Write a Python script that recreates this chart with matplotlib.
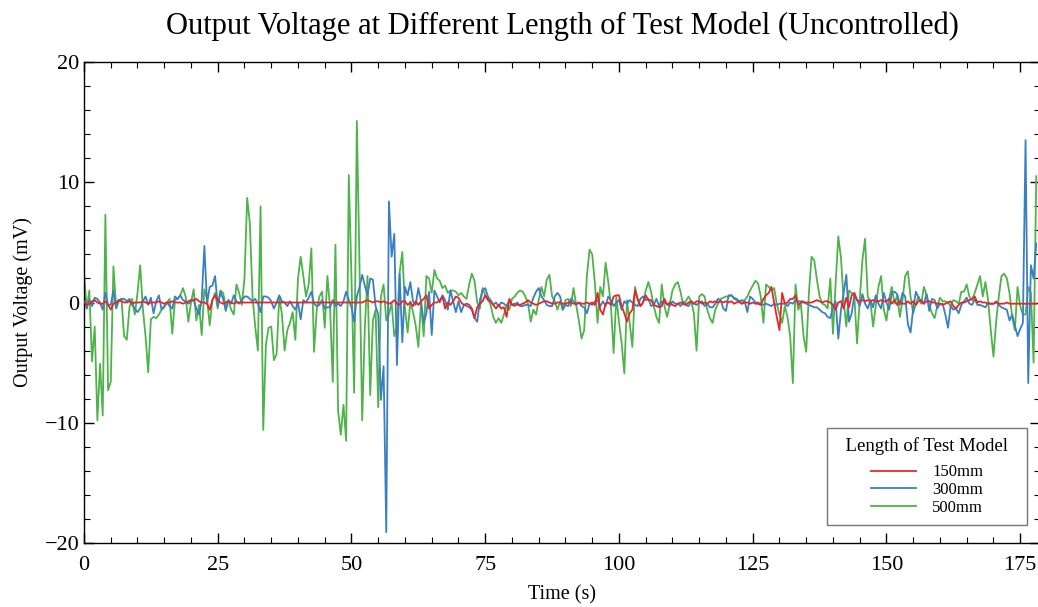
import numpy as np
import matplotlib
matplotlib.use("Agg")
import matplotlib.pyplot as plt
from matplotlib.ticker import MultipleLocator

plt.rcParams['font.family'] = ['Liberation Serif', 'DejaVu Serif']
plt.rcParams['mathtext.fontset'] = 'stix'

# sampled every 0.5 s, starting at t = 0
dt = 0.5

v_150mm = [
    0.1, -0.2, -0.1, 0.1, 0.2, 0.0, -0.1, -0.1, 0.1, -0.2, -0.6, -0.1, 0.0, 0.2, 0.1, 0.0, 0.0, 0.1, -0.1, 0.0,
    0.0, 0.0, 0.1, 0.0, -0.1, 0.0, 0.0, 0.0, 0.1, 0.0, -0.1, 0.0, 0.0, 0.1, 0.0, 0.0, 0.0, -0.1, 0.0, 0.1,
    0.2, 0.2, 0.3, 0.1, 0.0, 0.0, -0.1, -0.6, 0.2, 0.6, 0.2, 0.0, -0.1, 0.0, 0.1, 0.0, -0.1, 0.0, 0.0, 0.0,
    0.0, 0.0, 0.0, 0.0, 0.0, 0.0, 0.0, 0.0, 0.0, 0.0, 0.0, 0.0, 0.0, 0.0, 0.0, 0.0, 0.0, 0.0, 0.0, 0.0,
    0.0, 0.0, 0.0, 0.0, 0.0, 0.0, 0.0, 0.0, 0.0, 0.0, 0.0, 0.0, 0.0, 0.0, 0.0, 0.0, 0.0, 0.0, 0.0, 0.0,
    0.0, 0.0, 0.0, 0.0, 0.0, 0.1, 0.2, 0.1, 0.0, 0.1, 0.1, 0.0, 0.1, 0.0, -0.1, 0.0, 0.2, -0.1, -0.2, 0.1,
    0.1, -0.2, 0.0, -0.3, 0.1, -0.2, 0.1, 0.3, 0.6, -0.5, -0.2, 0.0, 0.0, 0.2, 0.5, -0.5, 0.0, -0.2, 0.1, 0.5,
    0.4, 0.0, -0.2, -0.1, -0.2, -0.5, -1.3, -0.4, -0.1, 0.1, 0.6, 0.2, 0.1, -0.2, -0.5, -0.2, -0.5, -0.4, -1.2, 0.3,
    -0.2, -0.1, -0.2, -0.2, -0.1, 0.0, 0.2, 0.0, -0.1, -0.2, -0.1, 0.0, 0.1, 0.1, 0.0, -0.1, -0.1, 0.0, 0.0, -0.1,
    -0.1, 0.0, 0.0, -0.1, -0.1, 0.0, -0.1, -0.1, 0.0, -0.1, 0.0, -0.2, 0.8, -0.6, -1.0, -0.1, 0.0, -0.2, 0.5, 0.6,
    0.6, -0.3, -0.9, -1.6, -0.9, -0.6, 1.0, 0.3, -0.3, 0.0, 0.6, 0.2, 0.2, -0.2, -0.3, -0.4, -0.3, 0.3, -0.2, 0.0,
    -0.2, -0.3, -0.1, 0.0, -0.1, -0.2, 0.0, 0.1, -0.1, 0.1, 0.1, -0.1, 0.0, -0.1, 0.1, 0.0, 0.1, 0.0, 0.1, 0.0,
    0.1, 0.0, 0.1, -0.1, 0.0, 0.1, -0.1, 0.0, 0.0, -0.1, 0.0, -0.1, -0.1, -0.2, 0.3, 0.6, 0.8, 1.3, 0.0, -1.2,
    -2.3, 0.8, -0.1, 0.0, 0.3, 0.3, 0.6, -0.2, 0.0, 0.0, 0.0, 0.0, 0.0, 0.1, 0.2, 0.1, 0.0, 0.1, 0.1, 0.0,
    -0.2, -0.6, 0.0, 0.1, -0.5, 0.4, -0.4, 0.6, 0.8, 0.2, 0.1, 0.2, 0.1, 0.2, 0.1, 0.2, 0.1, 0.1, 0.2, 0.1,
    0.1, 0.3, -0.1, 0.2, -0.2, 0.1, -0.1, -0.1, 0.1, -0.1, 0.1, -0.2, 0.1, 0.2, -0.1, 0.1, 0.1, 0.0, 0.0, -0.1,
    -0.1, -0.2, -0.1, 0.0, 0.1, -0.3, -0.5, -0.2, 0.0, 0.0, 0.1, 0.2, 0.3, 0.5, 0.0, 0.1, 0.0, 0.0, -0.1, -0.1,
    -0.1, 0.0, -0.1, -0.1, -0.1, 0.0, -0.1, -0.1, -0.1, -0.1, -0.1, -0.1, -0.1, -0.1, -0.1, -0.1, -0.1,
]

v_300mm = [
    0.6, -0.5, 0.2, -0.3, 0.4, 0.3, 0.0, -0.6, 0.8, -0.2, -0.2, 1.0, -0.5, 0.1, 0.3, 0.3, 0.1, 0.3, -0.2, -0.5,
    -0.8, -0.5, 0.1, 0.5, -0.2, 0.4, -0.9, 0.1, 0.6, -0.6, -0.3, 0.0, -0.3, -0.5, 0.5, 0.3, 0.6, 0.2, 0.1, -0.1,
    0.1, 0.2, -0.5, -1.0, 0.2, 4.7, -0.1, 1.3, 1.4, 2.2, -0.3, 0.9, 0.3, -0.7, 0.2, -0.1, 0.6, 0.1, -0.1, 0.2,
    0.5, 0.5, 0.3, 0.1, 0.3, -0.1, -0.8, 0.5, 0.5, 0.4, 0.1, -0.5, 0.0, 0.6, 0.1, 0.0, -0.3, 0.1, -0.3, -0.6,
    0.0, -1.4, 0.2, 0.0, 0.4, 0.9, -0.1, -0.3, -0.2, 0.2, -0.5, -0.4, -0.4, 0.2, -0.3, -0.1, -0.3, 0.1, 0.9, 0.2,
    -0.4, -1.6, 0.5, 1.3, 2.3, 1.4, 0.6, 2.0, 1.9, -0.3, -1.0, -8.1, -5.3, -19.1, 8.4, 3.8, 5.7, -5.2, 2.4, -3.3,
    1.3, 0.6, 1.7, 0.1, -0.2, 1.2, 0.1, -1.7, -0.9, 0.9, -2.7, 1.0, 0.5, 0.0, 0.6, 0.2, -0.6, 1.0, 0.1, -0.8,
    0.1, -0.8, -0.2, -0.3, -0.4, -0.6, -1.3, -1.6, 0.2, 1.0, 1.2, 0.5, 0.2, -0.2, 0.0, -0.3, 0.0, -0.1, -0.3, 0.2,
    -0.2, -0.3, 0.0, -0.3, -0.3, -0.2, -0.2, -0.3, 0.4, 0.9, 1.2, 0.5, 0.2, -0.2, -0.3, -0.3, 0.5, 0.8, 0.5, -0.6,
    -0.2, -0.3, 0.3, 0.1, -0.2, 0.0, -0.3, -0.4, -0.9, -0.1, -0.2, 0.1, 0.2, -0.3, 0.1, -0.3, 0.5, 0.2, -0.3, 0.0,
    0.2, -0.6, 0.1, -0.1, 0.2, 0.0, -0.2, -0.3, 0.3, 0.5, 0.2, 0.3, -0.3, -0.2, 0.3, -0.3, 0.1, 0.0, -0.1, -0.3,
    0.1, -0.1, -0.1, -0.3, 0.1, -0.2, -0.3, 0.1, -0.1, -0.2, 0.0, 0.1, -0.3, -0.1, -0.4, -0.4, -0.1, 0.3, 0.2, -0.5,
    -0.7, 0.6, 0.6, 0.4, 0.3, 0.1, 0.2, 0.1, -0.8, 0.5, 0.3, 0.0, 0.0, -0.1, -0.2, -0.1, -0.2, -0.3, -0.1, -0.2,
    -0.1, -0.1, -0.1, -0.3, 0.0, -0.1, 0.2, 0.1, 0.1, 0.1, -0.1, -0.2, -0.3, -0.4, -0.4, -0.6, -0.8, -0.9, -1.2, -1.3,
    -0.4, 0.1, -3.0, -0.6, 0.8, 2.3, -1.6, -0.9, 0.6, 0.2, -0.3, 0.7, -0.1, -0.5, 0.2, -0.4, 0.6, -0.1, -0.5, 0.8,
    0.0, -0.6, 0.8, 0.9, 0.7, -0.2, 0.8, 0.5, -1.8, -2.5, -0.5, 0.9, 0.4, 0.0, -0.1, 0.7, -0.7, 0.3, 0.2, -0.5,
    -0.1, -0.1, -1.0, -2.1, -0.3, -0.6, -0.5, -0.9, -0.2, 0.1, 0.4, -0.1, -0.2, 0.3, -0.2, -0.2, -0.3, -0.4, 0.0, -0.1,
    -0.1, 0.1, -0.2, -0.4, -0.5, -0.6, -1.5, -1.0, -1.9, -2.8, -2.2, -1.7, 13.5, -6.7, 3.1, 2.0, 4.9,
]

v_500mm = [
    2.5, -0.5, 1.0, -4.9, -2.0, -9.8, -5.1, -9.4, 7.3, -7.3, -6.6, 3.0, -0.3, 0.2, 0.3, -2.8, -3.1, -0.4, 0.3, -1.0,
    0.8, 3.1, -0.5, -2.8, -5.8, -1.4, -1.2, -1.3, -1.0, -0.6, -0.4, 0.0, 0.3, -2.6, 0.2, 0.3, 0.6, 1.2, 0.5, -1.6,
    0.0, 1.1, -1.5, -0.2, -2.7, 1.1, 0.3, -1.9, 0.2, 0.8, -0.5, 1.0, 0.8, -0.3, 0.2, -0.6, -1.0, 1.5, 0.8, -0.2,
    2.0, 8.7, 6.6, 0.5, -2.0, -4.0, 8.0, -10.6, -3.5, -2.1, -2.0, -4.8, -4.3, 0.5, -1.0, -4.0, -2.3, -1.7, -0.8, -3.1,
    2.0, 3.8, 2.2, 0.5, 1.5, 4.5, -4.1, -0.6, 0.5, 0.9, -2.1, 2.2, -0.5, -6.6, 4.8, -9.0, -11.0, -8.5, -11.5, 10.6,
    2.0, -7.5, 15.1, 3.0, -9.8, -2.0, 2.2, -7.7, -1.5, -0.6, -8.7, 0.5, 1.5, -1.5, -1.0, 0.0, -2.8, -2.0, 2.5, 4.2,
    -0.5, -2.5, 0.1, -0.8, -1.9, -3.7, 0.0, -2.8, 2.2, 2.0, 0.8, 2.7, 2.0, 1.8, 1.2, 1.4, 0.8, 1.0, 1.0, 0.9,
    0.6, 0.8, 0.5, 0.3, 1.5, 2.4, 1.8, 0.0, -0.5, 1.2, 0.6, 0.3, -0.2, -1.2, -1.7, -1.3, -1.7, -1.0, -0.3, -0.6,
    0.3, 0.5, 0.8, 1.0, 0.9, 0.5, -0.1, -1.6, -0.6, -1.0, 0.2, 1.3, 0.5, 1.9, 2.3, 0.5, 0.1, -0.6, 0.1, -0.6,
    0.2, 0.3, -0.3, 1.2, -0.2, -1.5, -3.0, -2.3, 2.2, 4.4, 4.0, 1.6, -1.7, 1.3, 0.5, 3.3, 1.7, -0.3, -4.2, 0.5,
    -1.6, -3.4, -5.9, 0.2, -1.7, -3.7, 1.3, 0.2, -0.3, 0.0, 1.0, 1.7, 0.9, -0.3, -1.2, -1.7, 1.5, -0.3, -1.2, -0.1,
    1.0, 1.5, 1.7, 0.9, -0.2, 0.1, 0.5, 0.1, -0.9, -4.0, 0.5, 0.7, 0.5, -0.6, -1.3, -1.7, -0.6, -0.1, 0.3, 0.4,
    0.5, 0.5, 0.6, 0.3, 0.2, 0.0, -0.1, 0.2, 0.5, 1.0, 1.4, 1.8, 1.6, 0.5, -1.7, 1.5, 1.3, 1.0, 1.2, -0.1,
    -1.0, -1.7, -0.3, -1.2, -2.8, -6.7, 1.5, -0.6, -0.1, -2.8, -4.1, 0.8, 3.8, 3.5, 1.9, 0.5, -0.1, -0.2, -0.5, 2.0,
    -2.6, 1.6, 5.5, 3.7, 0.1, -2.0, 1.0, 0.8, 0.5, -3.4, 0.2, 3.5, 5.3, 0.5, 0.1, -2.0, -0.3, 1.3, 2.2, -0.6,
    -1.5, 0.3, 1.3, -0.1, 0.6, -1.2, 0.2, 2.2, 2.6, 0.5, -0.9, -0.1, 0.5, -0.1, 1.3, 0.6, -0.2, -0.9, -1.3, -0.3,
    0.4, 0.1, 0.1, 0.0, -0.3, 0.2, 0.1, -0.1, 0.9, 0.9, 1.5, 0.5, 0.2, 0.8, 1.5, 2.2, 0.5, 1.7, 0.2, -2.3,
    -4.5, -1.6, 0.5, 2.2, 2.4, 2.0, 0.8, -1.2, -2.3, 1.3, -0.3, -1.0, -1.0, 1.3, 0.8, -5.0, 10.5,
]

series = [("150mm", v_150mm, "#e8262a"),
          ("300mm", v_300mm, "#3a7fc1"),
          ("500mm", v_500mm, "#4db34a")]

fig = plt.figure(figsize=(10.38, 6.07), dpi=100)
# right spine sits just past the picture edge, as in the cropped original
ax = fig.add_axes([84 / 1038, 64 / 607, 956 / 1038, 481 / 607])

# draw 500mm first so red stays on top
for name, vals, col in reversed(series):
    t = np.arange(len(vals)) * dt
    ax.plot(t, vals, color=col, lw=1.3, label=name, zorder=3 if name == "150mm" else 2)

ax.set_xlim(0, 178.7)
ax.set_ylim(-20, 20)
ax.xaxis.set_major_locator(MultipleLocator(25))
ax.xaxis.set_minor_locator(MultipleLocator(5))
ax.yaxis.set_major_locator(MultipleLocator(10))
ax.yaxis.set_minor_locator(MultipleLocator(2))
ax.tick_params(which='both', direction='in', top=True, right=True, labelsize=16)
ax.tick_params(axis='x', pad=9)
ax.tick_params(which='major', length=7, width=1)
ax.tick_params(which='minor', length=4, width=0.8)
for s in ax.spines.values():
    s.set_linewidth(1.0)

ax.set_title("Output Voltage at Different Length of Test Model (Uncontrolled)",
             fontsize=22, pad=20)
ax.set_xlabel("Time (s)", fontsize=14.5, labelpad=8)
ax.set_ylabel("Output Voltage (mV)", fontsize=14.5, labelpad=8)

handles, labels = ax.get_legend_handles_labels()
order = [labels.index(n) for n, _, _ in series]
leg = ax.legend([handles[i] for i in order], [labels[i] for i in order],
                title="  Length of Test Model  ", loc='lower right',
                bbox_to_anchor=((1027 - 84) / 956, (543 - 525) / 481),
                borderaxespad=0, fontsize=12, title_fontsize=13.5,
                frameon=True, fancybox=False, edgecolor='#555555',
                handlelength=2.7, handletextpad=1.0, borderpad=0.55,
                labelspacing=0.1)
leg.get_frame().set_linewidth(1.0)
leg._legend_box.sep = 6.5  # wider gap between title and entries

fig.savefig("out.png", dpi=100)
